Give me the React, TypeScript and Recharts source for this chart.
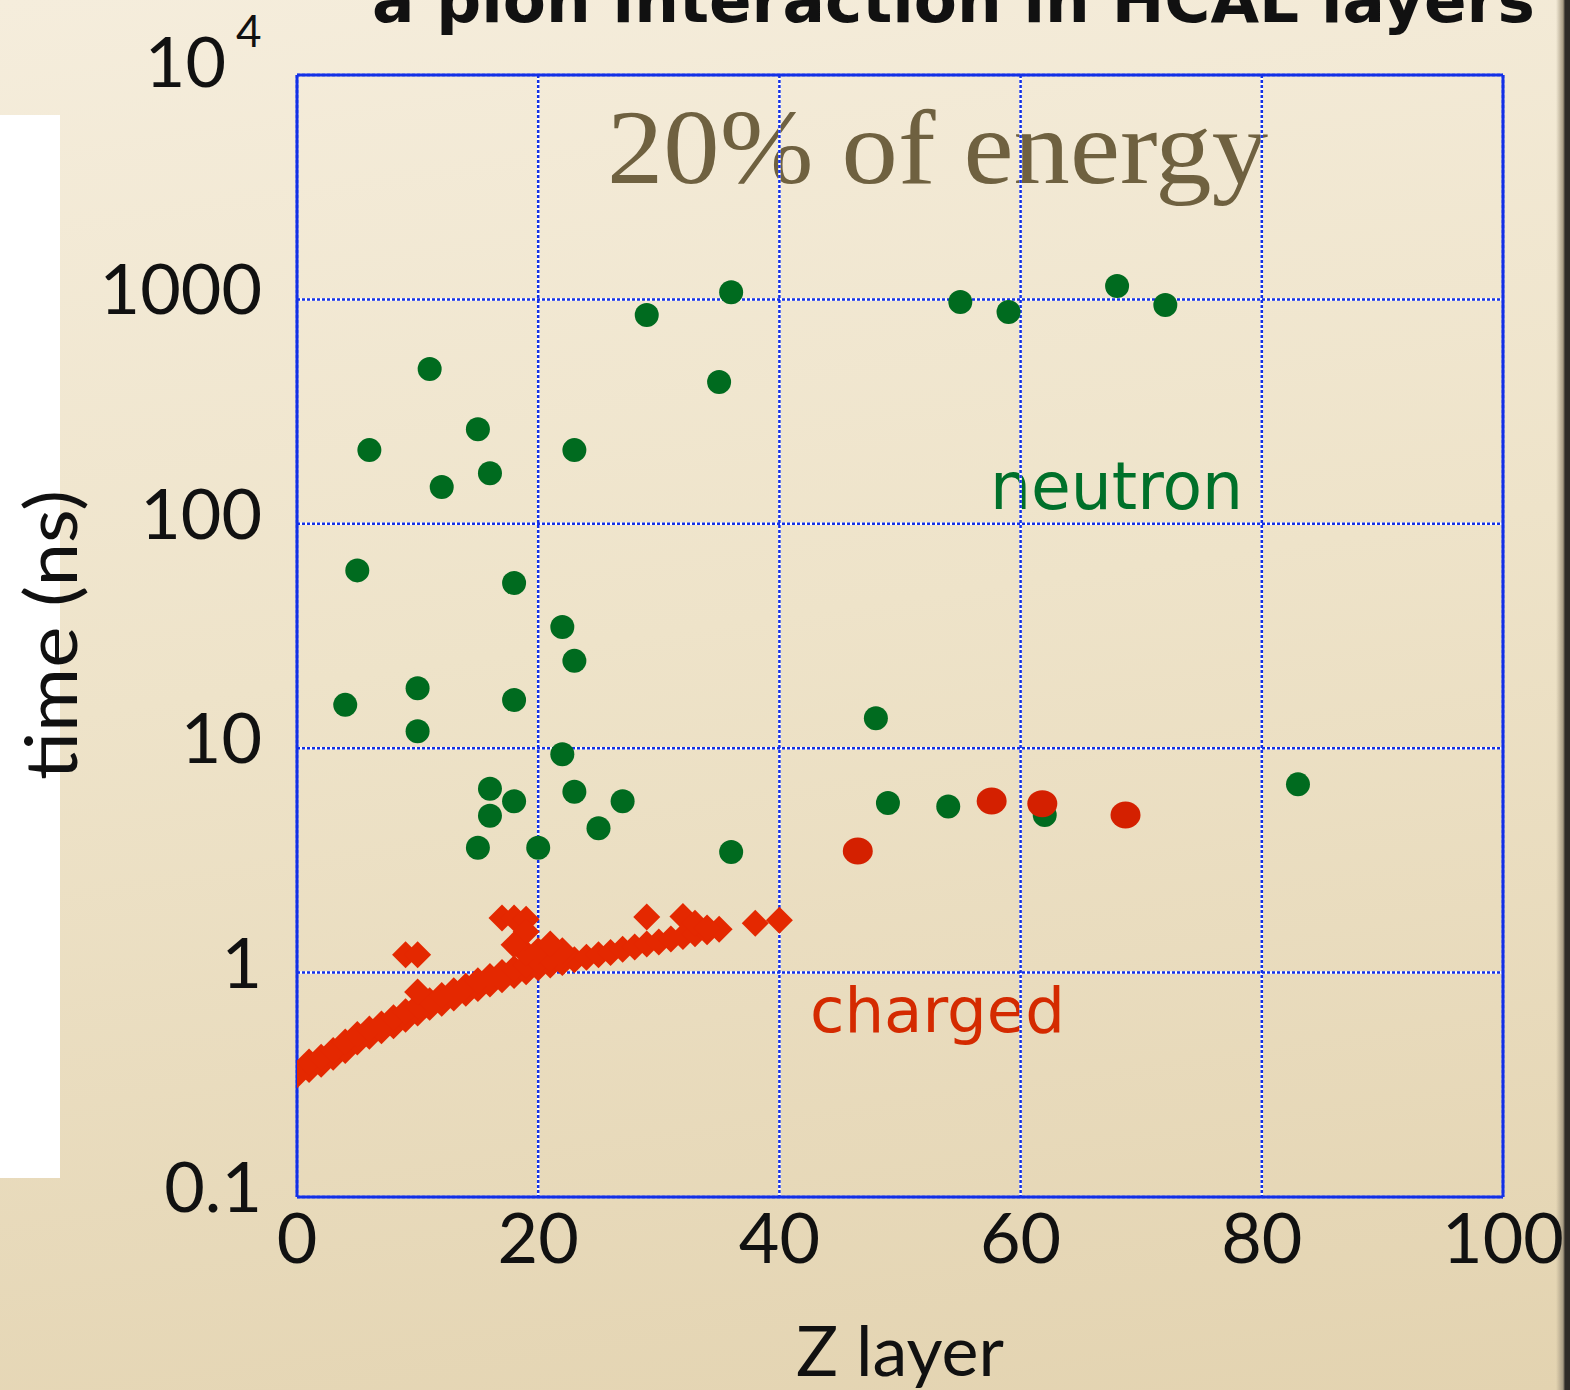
import React from 'react';
import { ScatterChart, Scatter, XAxis, YAxis, CartesianGrid } from 'recharts';

// neutron hits (green)
const neutronZ = [4, 5, 6, 10, 10, 11, 12, 15, 15, 16, 16, 16, 18, 18, 18, 20, 22, 22, 23, 23, 23, 25, 27, 29, 35, 36, 36, 48, 49, 54, 55, 59, 62, 68, 72, 83];
const neutronT = [15.6, 62, 213, 18.5, 11.9, 490, 146, 264, 3.6, 168, 6.6, 5.0, 54.5, 16.4, 5.8, 3.6, 34.7, 9.4, 213, 24.5, 6.4, 4.4, 5.8, 852, 428, 1075, 3.45, 13.6, 5.7, 5.5, 973, 879, 5.04, 1148, 944, 6.9];

// late charged hits (red circles)
const lateZ = [46.5, 57.6, 61.8, 68.7];
const lateT = [3.48, 5.82, 5.66, 5.04];

// prompt charged hits (red diamonds)
const chargedZ = [
  0, 1, 2, 3, 4, 5, 6, 7, 8, 9, 10, 11, 12, 13, 14, 15, 16, 17, 18, 19, 20, 21, 22, 23, 24, 25, 26, 27, 28, 29, 30, 31, 32, 33, 34, 35,
  1, 2, 3, 4, 5, 6, 7, 8, 9, 10, 11, 12, 13, 14, 15, 16, 17, 18, 19, 20, 21, 22,
  10, 19, 20, 22,
  9, 10, 17, 18, 19, 19, 18, 21, 29, 32, 33, 34, 38, 40,
];
const chargedT = [
  0.35, 0.37, 0.39, 0.42, 0.45, 0.49, 0.52, 0.55, 0.58, 0.62, 0.66, 0.70, 0.73, 0.77, 0.81, 0.85, 0.89, 0.93, 0.97, 1.01, 1.05, 1.08, 1.11, 1.14, 1.17, 1.2, 1.23, 1.27, 1.3, 1.34, 1.37, 1.41, 1.45, 1.49, 1.52, 1.56,
  0.4, 0.42, 0.45, 0.49, 0.53, 0.56, 0.59, 0.63, 0.67, 0.71, 0.75, 0.79, 0.83, 0.87, 0.92, 0.96, 1.0, 1.04, 1.08, 1.12, 1.15, 1.19,
  0.82, 1.22, 1.25, 1.25,
  1.2, 1.2, 1.75, 1.75, 1.73, 1.52, 1.33, 1.34, 1.77, 1.78, 1.66, 1.58, 1.66, 1.71,
];

const xTicks = [0, 20, 40, 60, 80, 100];
const yTicks = [0.1, 1, 10, 100, 1000, 10000];
const yTickLabels = ['0.1', '1', '10', '100', '1000', '10^4'];

const toRows = (zs: number[], ts: number[]) => zs.map((z, i) => ({ z, t: ts[i] }));
const neutronData = toRows(neutronZ, neutronT);
const lateData = toRows(lateZ, lateT);
const chargedData = toRows(chargedZ, chargedT);

const BLUE = '#1330e6';
const TICK_FONT = 'Lato, "Open Sans", sans-serif';

const GreenDot = (p: any) => <circle cx={p.cx} cy={p.cy} r={12} fill="#006b1f" />;
const RedDot = (p: any) => <ellipse cx={p.cx} cy={p.cy} rx={15} ry={13.5} fill="#d42000" />;
const Diamond = (p: any) => {
  const s = 13.5;
  return (
    <polygon
      points={`${p.cx},${p.cy - s} ${p.cx + s},${p.cy} ${p.cx},${p.cy + s} ${p.cx - s},${p.cy}`}
      fill="#e42800"
    />
  );
};

const YTick = ({ x, y, payload }: any) => {
  const idx = yTicks.indexOf(payload.value);
  const label = yTickLabels[idx];
  if (label === '10^4') {
    return (
      <g fontFamily={TICK_FONT} fill="#111">
        <text x={x - 71} y={y + 12} fontSize={70} textAnchor="end">10</text>
        <text x={x - 61} y={y - 28} fontSize={44}>4</text>
      </g>
    );
  }
  return (
    <text x={x - 35} y={y + 15} fontSize={70} textAnchor="end" fontFamily={TICK_FONT} fill="#111">
      {label}
    </text>
  );
};

const XTick = ({ x, y, payload }: any) => (
  <text x={x} y={y + 66} fontSize={70} textAnchor="middle" fontFamily={TICK_FONT} fill="#111">
    {payload.value}
  </text>
);

export default function App() {
  return (
    <div
      style={{
        position: 'absolute',
        left: 0,
        top: 0,
        width: 1570,
        height: 1390,
        overflow: 'hidden',
        background: 'linear-gradient(172deg, #f5eddc 0%, #eee3c9 45%, #e3d3b0 100%)',
      }}
    >
      <div style={{ position: 'absolute', left: 0, top: 115, width: 60, height: 1063, background: '#ffffff' }} />
      <div
        style={{
          position: 'absolute',
          left: 1556,
          top: 0,
          width: 14,
          height: 1390,
          background: 'linear-gradient(to right, rgba(190,176,148,0) 0%, #a89c84 50%, #2e2b27 65%, #2e2b27 100%)',
        }}
      />
      <svg width={1570} height={1390} style={{ position: 'absolute', left: 0, top: 0 }}>
        <text
          x={372}
          y={22}
          fontSize={62}
          fontWeight="bold"
          fontFamily='"DejaVu Sans", sans-serif'
          fill="#111"
          textLength={1163}
          lengthAdjust="spacingAndGlyphs"
        >
          a pion interaction in HCAL layers
        </text>
        <text
          x={607}
          y={183}
          fontSize={106}
          fontFamily='"Liberation Serif", serif'
          fill="#6f6140"
          textLength={661}
          lengthAdjust="spacingAndGlyphs"
        >
          20% of energy
        </text>
        <text x={990} y={509} fontSize={66} fontFamily='"DejaVu Sans", sans-serif' fill="#00702a" textLength={253} lengthAdjust="spacingAndGlyphs">
          neutron
        </text>
        <text x={810} y={1032} fontSize={62} fontFamily='"DejaVu Sans", sans-serif' fill="#d42a00" textLength={255} lengthAdjust="spacingAndGlyphs">
          charged
        </text>
        <text x={900} y={1376} fontSize={70} textAnchor="middle" fontFamily={TICK_FONT} fill="#111">
          Z layer
        </text>
        <text
          x={0}
          y={0}
          transform="translate(77,635) rotate(-90)"
          fontSize={72}
          textAnchor="middle"
          fontFamily={TICK_FONT}
          fill="#111"
          textLength={290}
          lengthAdjust="spacingAndGlyphs"
        >
          time (ns)
        </text>
      </svg>
      <div style={{ position: 'absolute', left: 0, top: 0 }}>
        <ScatterChart width={1570} height={1390} margin={{ top: 75, right: 67, left: 57, bottom: 43 }}>
          <CartesianGrid stroke="#ffffff" strokeWidth={2.5} />
          <CartesianGrid stroke={BLUE} strokeWidth={2.5} strokeDasharray="3 2" />
          <XAxis
            dataKey="z"
            type="number"
            domain={[0, 100]}
            ticks={xTicks}
            height={150}
            tickLine={false}
            tickSize={0}
            tickMargin={0}
            axisLine={{ stroke: BLUE, strokeWidth: 3 }}
            tick={<XTick />}
            interval={0}
            allowDataOverflow
          />
          <XAxis
            xAxisId="bottomTicks"
            type="number"
            domain={[0, 100]}
            ticks={xTicks}
            mirror
            tickSize={20}
            tick={false}
            axisLine={false}
            tickLine={{ stroke: BLUE, strokeWidth: 3 }}
            interval={0}
          />
          <XAxis
            xAxisId="top"
            orientation="top"
            type="number"
            domain={[0, 100]}
            ticks={xTicks}
            mirror
            tickSize={20}
            tick={false}
            axisLine={{ stroke: BLUE, strokeWidth: 3 }}
            tickLine={{ stroke: BLUE, strokeWidth: 3 }}
            interval={0}
          />
          <YAxis
            dataKey="t"
            type="number"
            scale="log"
            domain={[0.1, 10000]}
            ticks={yTicks}
            width={240}
            tickLine={false}
            tickSize={0}
            tickMargin={0}
            axisLine={{ stroke: BLUE, strokeWidth: 3 }}
            tick={<YTick />}
            interval={0}
            allowDataOverflow
          />
          <YAxis
            yAxisId="leftTicks"
            type="number"
            scale="log"
            domain={[0.1, 10000]}
            ticks={yTicks}
            mirror
            tickSize={20}
            tick={false}
            axisLine={false}
            tickLine={{ stroke: BLUE, strokeWidth: 3 }}
            interval={0}
          />
          <YAxis
            yAxisId="right"
            orientation="right"
            type="number"
            scale="log"
            domain={[0.1, 10000]}
            ticks={yTicks}
            mirror
            tickSize={20}
            tick={false}
            axisLine={{ stroke: BLUE, strokeWidth: 3 }}
            tickLine={{ stroke: BLUE, strokeWidth: 3 }}
            interval={0}
          />
          <Scatter data={neutronData} shape={GreenDot} isAnimationActive={false} />
          <Scatter data={chargedData} shape={Diamond} isAnimationActive={false} />
          <Scatter data={lateData} shape={RedDot} isAnimationActive={false} />
        </ScatterChart>
      </div>
    </div>
  );
}
